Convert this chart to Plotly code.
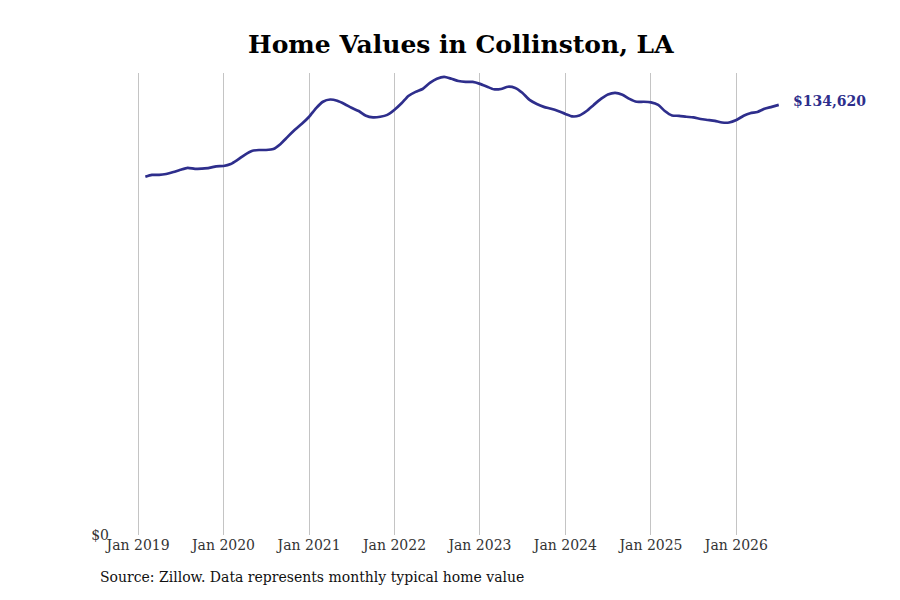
import pandas as pd
import plotly.graph_objects as go

# Monthly typical home value, Feb 2019 .. Jul 2026
dates = pd.date_range("2019-02-01", "2026-07-01", freq="MS")
values = [
    112100, 112700, 112700, 113000, 113600, 114300, 114900, 114600, 114700, 114900, 115400,  # 2019 Feb-Dec
    115500, 116100, 117400, 119000, 120200, 120500, 120500, 120800, 122400, 124600, 126800, 128700,  # 2020
    130900, 133700, 135600, 136300, 135900, 134900, 133700, 132700, 131200, 130700, 130900, 131500,  # 2021
    133100, 135200, 137400, 138700, 139600, 141500, 142800, 143400, 142800, 142100, 141800, 141800,  # 2022
    141200, 140300, 139500, 139600, 140300, 139900, 138400, 136200, 134900, 134000, 133400, 132700,  # 2023
    131800, 131000, 131300, 132700, 134600, 136500, 137900, 138400, 137800, 136500, 135600, 135600,  # 2024
    135400, 134600, 132700, 131300, 131200, 130900, 130700, 130200, 129900, 129600, 129100, 129100,  # 2025
    129900, 131200, 132000, 132400, 133400, 134000, 134620,  # 2026 Jan-Jul
]
tick_dates = ["2019-01-01", "2020-01-01", "2021-01-01", "2022-01-01",
              "2023-01-01", "2024-01-01", "2025-01-01", "2026-01-01"]
tick_labels = ["Jan 2019", "Jan 2020", "Jan 2021", "Jan 2022",
               "Jan 2023", "Jan 2024", "Jan 2025", "Jan 2026"]
last_label = "$134,620"

line_color = "#2e2e8c"
font_family = "DejaVu Serif"

fig = go.Figure()
fig.add_trace(go.Scatter(
    x=dates, y=values, mode="lines",
    line=dict(color=line_color, width=2.7, shape="spline", smoothing=0.6),
    hoverinfo="skip", showlegend=False,
))

fig.add_annotation(
    x=dates[-1], y=values[-1], text=f"<b>{last_label}</b>",
    showarrow=False, xanchor="left", yanchor="middle", xshift=12, yshift=4,
    font=dict(family=font_family, size=14, color=line_color),
)

fig.add_annotation(
    x=0, xref="paper", xanchor="left", xshift=-12,
    y=0, yref="paper", yanchor="top", yshift=-32,
    text="Source: Zillow. Data represents monthly typical home value",
    showarrow=False, font=dict(family=font_family, size=14, color="#111111"),
)

fig.update_layout(
    width=900, height=600,
    paper_bgcolor="white", plot_bgcolor="white",
    margin=dict(l=110, r=114, t=73, b=65),
    title=dict(text="<b>Home Values in Collinston, LA</b>", x=0.512, xanchor="center",
               y=0.926, yanchor="middle",
               font=dict(family=font_family, size=25, color="#000000")),
    font=dict(family=font_family, size=14, color="#333333"),
    xaxis=dict(
        range=["2018-09-03", "2026-08-01"],
        tickvals=tick_dates, ticktext=tick_labels,
        showgrid=True, gridcolor="#c4c4c4", gridwidth=1,
        showline=False, zeroline=False, ticks="",
        tickfont=dict(family=font_family, size=14, color="#333333"),
    ),
    yaxis=dict(
        range=[0, 144600],
        tickvals=[0], ticktext=["$0"],
        showgrid=False, zeroline=False, showline=False, ticks="",
        tickfont=dict(family=font_family, size=14, color="#333333"),
    ),
)

fig.write_html("out.html", config={"displayModeBar": False, "staticPlot": True},
               post_script="document.body.style.margin='0';")
